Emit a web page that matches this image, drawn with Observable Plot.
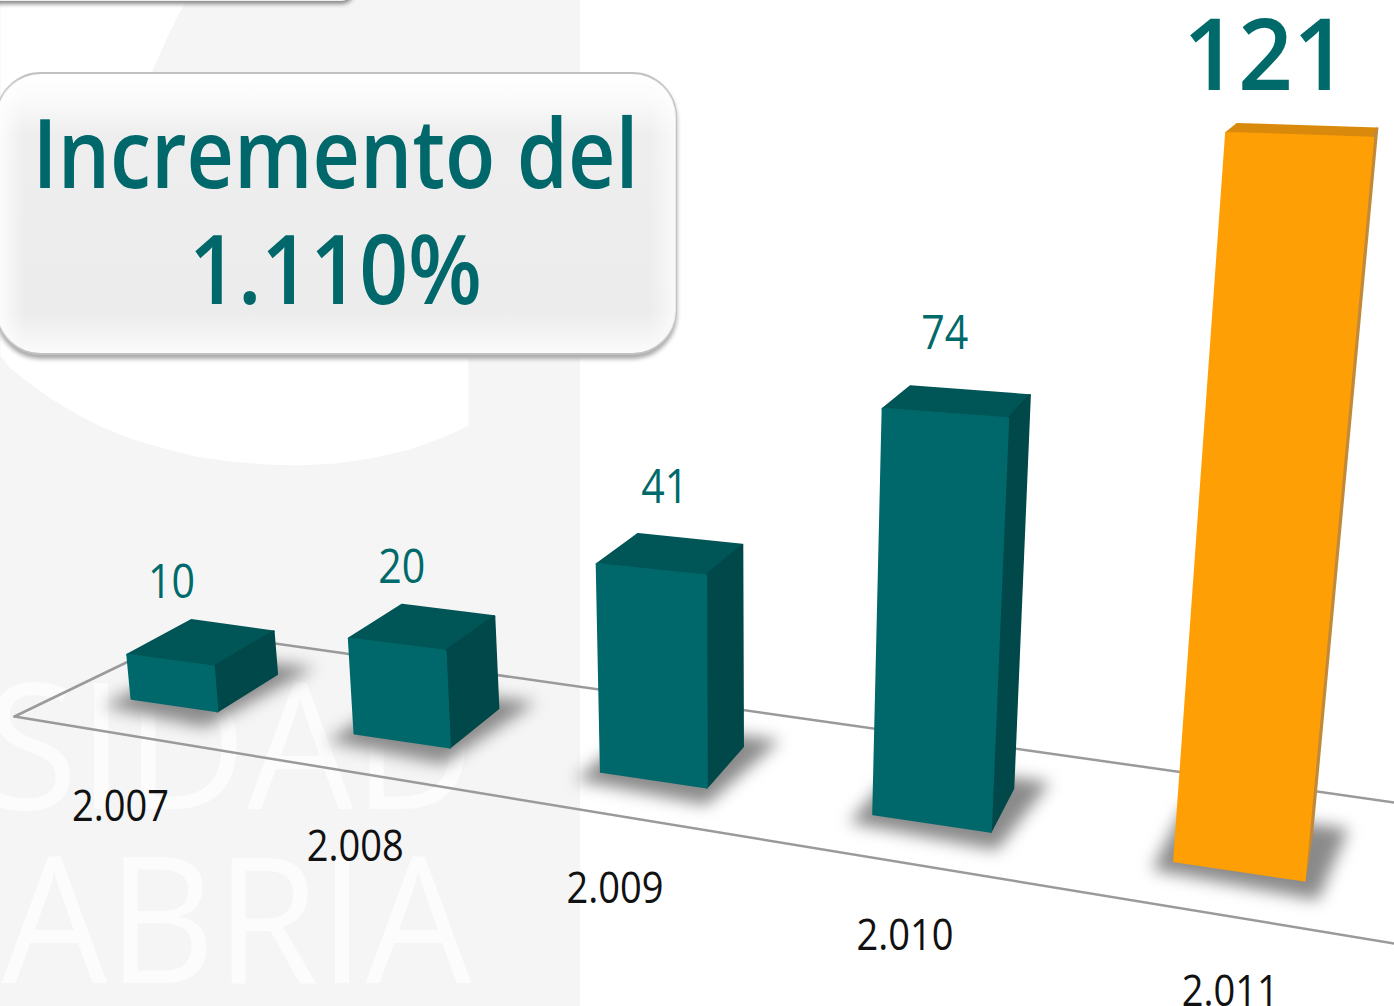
<!DOCTYPE html>
<html lang="es">
<head>
<meta charset="utf-8">
<title>Incremento del 1.110%</title>
<script src="https://cdn.jsdelivr.net/npm/d3@7"></script>
<script src="https://cdn.jsdelivr.net/npm/@observablehq/plot@0.6"></script>
<style>
html,body{margin:0;padding:0;background:#fff;overflow:hidden}
svg{display:block}
</style>
</head>
<body>
<div id="chart"></div>
<script>
// ---- data
const years = ["2.007", "2.008", "2.009", "2.010", "2.011"];
const values = [10, 20, 41, 74, 121];
const headline = ["Incremento del", "1.110%"];
const watermark = ["SIDAD", "ABRIA"];

// ---- look
const teal = {front: "#00686a", top: "#005556", side: "#004849"};
const orange = {front: "#ff9f06", top: "#d98a0c", side: "#c08a3a"};
const ink = "#006a6b";
const font = "'Open Sans', sans-serif";
const W = 1394, H = 1006;

// ---- perspective camera of the 3D bars: (bar index, along width, depth, value) -> page
const floorX = (i) => 131 + 223 * (Math.pow(1.105, i) - 1) / 0.105;
const floorY = (x) => 698 + 0.156 * (x - 130);
const barWidth = (i) => 86 * Math.pow(1.11, i);
const perUnit = [4.4, 4.75, 5.07, 5.48, 6.02];
function project(i, u, d, v) {
  const x0 = floorX(i);
  const w = barWidth(i) * u;
  const bx = x0 + w;
  const by = floorY(x0) + 0.148 * w;
  const h = v * perUnit[i] * (1 + 0.02 * u);
  const x = bx + h * (bx - 727) * 0.00016;
  const y = by - h;
  const dx = d * (70 - 0.048 * x);
  const dy = -d * (0.049 * y + 2.5);
  return {x: x + dx, y: y + dy};
}

// ---- tables built from the arrays
const faces = values.flatMap((v, i) => {
  const c = i === values.length - 1 ? orange : teal;
  const shapes = [
    ["top", c.top, [[0,0,v],[1,0,v],[1,1,v],[0,1,v],[0,0,v]]],
    ["side", c.side, [[1,0,v],[1,1,v],[1,1,0],[1,0,0],[1,0,v]]],
    ["front", c.front, [[0,0,v],[1,0,v],[1,0,0],[0,0,0],[0,0,v]]]
  ];
  return shapes.flatMap(([name, color, pts]) => pts.map(([u, d, val]) => ({...project(i, u, d, val), face: `${i}-${name}`, color})));
});
const shadows = values.flatMap((v, i) =>
  [[-0.14,-0.25],[1.12,-0.38],[1.28,1.25],[-0.05,1.2]].map(([u, d]) => ({...project(i, u, d, 0), bar: i}))
);
const labelNudge = [[-30, -45], [-21, -45], [-6, -52], [-13, -53], [-38, -41]];
const valueLabels = values.map((v, i) => {
  const p = project(i, 0.5, 0.5, v);
  return {x: p.x + labelNudge[i][0], y: p.y + labelNudge[i][1], text: String(v), big: i === 4};
});
const yearNudge = [[-54, 116], [-47, 120], [-39, 123], [-27, 127], [-9, 135]];
const yearLabels = years.map((t, i) => {
  const p = project(i, 0.5, 0, 0);
  return {x: p.x + yearNudge[i][0], y: p.y + yearNudge[i][1], text: t};
});

// ---- decoration
const panel = [{x1: 0, x2: 580, y1: 0, y2: H}];
const blob = [[0,-5],[188,-5],[170,30],[152,70],[150,100],[468,200],[468,425],[450,434],[410,449],[370,458],[335,463],[300,465],[265,464],[230,461],[195,456],[160,447],[130,438],[100,426],[75,413],[50,398],[28,382],[9,367],[0,355],[0,-5]].map(([x,y]) => ({x,y}));
const floorFront = [[14,716],[W,943]].map(([x,y]) => ({x,y}));
const floorBack = [[14,716],[190,631],[W,802]].map(([x,y]) => ({x,y}));
const card = [{x1: -3, x2: 676, y1: 73, y2: 354}];
const topCard = [{x1: -30, x2: 355, y1: -60, y2: 1}];
const watermarkLabels = [{x: 230, y: 808, text: watermark[0]}, {x: 236, y: 982, text: watermark[1]}];
const headlineLabels = [{x: 335, y: 187, text: headline[0]}, {x: 335, y: 303, text: headline[1]}];

// target widths for the condensed type
const fitted = new Map([
  [watermark[0], 490], [watermark[1], 470],
  [headline[0], 606], [headline[1], 293],
  ...years.map((y) => [y, 97]),
  ...values.map((v) => [String(v), v === 121 ? 165 : 47])
]);

const defs = () => {
  const d = d3.create("svg:defs");
  const g1 = d.append("linearGradient").attr("id", "cardV").attr("x1", 0).attr("x2", 0).attr("y1", 0).attr("y2", 1);
  [[0,"#ffffff"],[0.09,"#fbfbfb"],[0.22,"#eeeeee"],[0.85,"#ececec"],[0.97,"#f8f8f8"],[1,"#fbfbfb"]].forEach(([o,c]) => g1.append("stop").attr("offset", o).attr("stop-color", c));
  const g2 = d.append("linearGradient").attr("id", "cardH");
  [[0,"#ffffff",0.9],[0.04,"#ffffff",0],[0.96,"#ffffff",0],[1,"#ffffff",0.7]].forEach(([o,c,a]) => g2.append("stop").attr("offset", o).attr("stop-color", c).attr("stop-opacity", a));
  return d.node();
};

const chart = Plot.plot({
  width: W, height: H,
  margin: 0,
  x: {domain: [0, W], range: [0, W], axis: null},
  y: {domain: [0, H], range: [0, H], axis: null},
  color: {type: "identity"},
  style: {fontFamily: font, background: "#fff"},
  marks: [
    defs,
    Plot.rect(panel, {x1: "x1", x2: "x2", y1: "y1", y2: "y2", fill: "#f5f5f5"}),
    Plot.line(blob, {x: "x", y: "y", fill: "#fff", stroke: "none"}),
    Plot.text(watermarkLabels, {x: "x", y: "y", text: "text", fontSize: 176, fontWeight: 400, fill: "#fcfcfc", lineAnchor: "bottom", textAnchor: "middle"}),
    Plot.rect(panel, {x1: "x2", x2: () => W, y1: "y1", y2: "y2", fill: "#fff"}),
    Plot.line(floorFront, {x: "x", y: "y", stroke: "#9a9a9a", strokeWidth: 2.5}),
    Plot.line(floorBack, {x: "x", y: "y", stroke: "#9a9a9a", strokeWidth: 2.5}),
    Plot.line(shadows, {x: "x", y: "y", z: "bar", fill: "#8a8a8a", stroke: "none", imageFilter: "blur(8px)"}),
    Plot.line(faces, {x: "x", y: "y", z: "face", fill: (d) => d.color, stroke: (d) => d.color, strokeWidth: 2}),
    Plot.rect(topCard, {x1: "x1", x2: "x2", y1: "y1", y2: "y2", rx: 14, fill: "#eee", imageFilter: "drop-shadow(0 3px 2px #888)"}),
    Plot.rect(card, {x1: "x1", x2: "x2", y1: "y1", y2: "y2", rx: 44, fill: "url(#cardV)", stroke: "#c2c2c2", strokeWidth: 2, imageFilter: "drop-shadow(0 4px 2px #aaa)"}),
    Plot.rect(card, {x1: "x1", x2: "x2", y1: "y1", y2: "y2", rx: 44, fill: "url(#cardH)"}),
    Plot.text(headlineLabels, {x: "x", y: "y", text: "text", fontSize: 96, fontWeight: 600, fill: "#00676a", lineAnchor: "bottom", textAnchor: "middle"}),
    Plot.text(valueLabels.filter((d) => !d.big), {x: "x", y: "y", text: "text", fontSize: 48, fill: ink, lineAnchor: "bottom", textAnchor: "middle"}),
    Plot.text(valueLabels.filter((d) => d.big), {x: "x", y: "y", text: "text", fontSize: 100, fontWeight: 600, fill: ink, lineAnchor: "bottom", textAnchor: "middle"}),
    Plot.text(yearLabels, {x: "x", y: "y", text: "text", fontSize: 43, fill: "#111", lineAnchor: "bottom", textAnchor: "middle"})
  ]
});
chart.querySelectorAll("text").forEach((t) => {
  const w = fitted.get(t.textContent);
  if (w) { t.setAttribute("textLength", w); t.setAttribute("lengthAdjust", "spacingAndGlyphs"); }
});
document.getElementById("chart").append(chart);
</script>
</body>
</html>
